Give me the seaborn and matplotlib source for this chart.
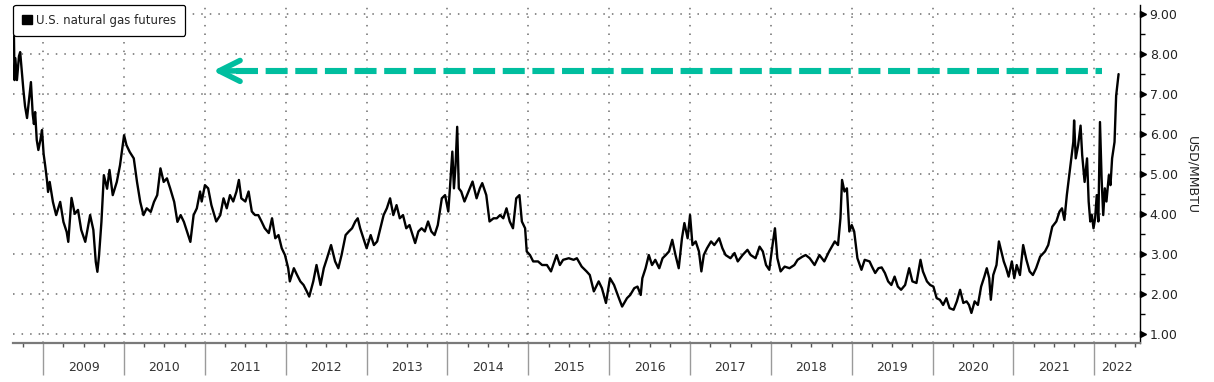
import matplotlib
matplotlib.use("Agg")
import matplotlib.pyplot as plt
import matplotlib.transforms as mtransforms
from matplotlib.patches import Patch
from matplotlib.ticker import FixedLocator, FormatStrFormatter, NullFormatter
import pandas as pd
import seaborn as sns

# U.S. natural gas front-month futures, USD/MMBTU (time as decimal year)
YEARS = [
    2008.638, 2008.645, 2008.655, 2008.675, 2008.700, 2008.715, 2008.730, 2008.755,
    2008.775, 2008.800, 2008.830, 2008.848, 2008.870, 2008.885, 2008.900, 2008.920,
    2008.940, 2008.965, 2008.985, 2009.005, 2009.025, 2009.046,
    2009.06, 2009.08, 2009.12, 2009.16, 2009.21, 2009.25, 2009.29, 2009.31, 2009.35,
    2009.39, 2009.43, 2009.47, 2009.52, 2009.58, 2009.62, 2009.65, 2009.67, 2009.69,
    2009.72, 2009.75, 2009.79, 2009.82, 2009.86, 2009.91, 2009.95, 2010.00, 2010.03,
    2010.07, 2010.12, 2010.16, 2010.20, 2010.24, 2010.28, 2010.33, 2010.37, 2010.41,
    2010.45, 2010.49, 2010.53, 2010.57, 2010.62, 2010.66, 2010.70, 2010.74, 2010.78,
    2010.82, 2010.86, 2010.90,
    2010.94, 2010.96, 2011.00, 2011.04, 2011.08, 2011.14, 2011.19, 2011.23, 2011.27,
    2011.31, 2011.35, 2011.39, 2011.42, 2011.45, 2011.50, 2011.54, 2011.58, 2011.62,
    2011.66, 2011.70, 2011.74, 2011.79, 2011.83, 2011.87, 2011.91, 2011.95, 2011.99,
    2012.03, 2012.05, 2012.10, 2012.14, 2012.18, 2012.22, 2012.26, 2012.29, 2012.34,
    2012.38, 2012.43, 2012.47, 2012.51, 2012.56, 2012.61, 2012.65, 2012.69, 2012.74,
    2012.78, 2012.82, 2012.86, 2012.89, 2012.92, 2012.96, 2013.00, 2013.05, 2013.09,
    2013.13, 2013.17, 2013.21, 2013.25,
    2013.29, 2013.33, 2013.37, 2013.41, 2013.45, 2013.49, 2013.53, 2013.60, 2013.64,
    2013.68, 2013.72, 2013.76, 2013.80, 2013.84, 2013.88, 2013.93, 2013.97, 2014.01,
    2014.03, 2014.06, 2014.08, 2014.10, 2014.12, 2014.14, 2014.17, 2014.21, 2014.26,
    2014.31, 2014.36, 2014.40, 2014.43, 2014.48, 2014.52, 2014.57, 2014.61, 2014.65,
    2014.69, 2014.73, 2014.77, 2014.81, 2014.85, 2014.89, 2014.92, 2014.96, 2014.98,
    2015.02, 2015.06, 2015.12, 2015.17, 2015.23, 2015.28, 2015.35, 2015.39, 2015.43,
    2015.50, 2015.56, 2015.60, 2015.66, 2015.72, 2015.76, 2015.81, 2015.87, 2015.91,
    2015.96, 2016.01, 2016.06, 2016.12, 2016.16, 2016.22,
    2016.26, 2016.31, 2016.35, 2016.39, 2016.41, 2016.45, 2016.49, 2016.53, 2016.57,
    2016.62, 2016.66, 2016.70, 2016.74, 2016.78, 2016.82, 2016.86, 2016.90, 2016.93,
    2016.97, 2017.00, 2017.03, 2017.07, 2017.11, 2017.14, 2017.17, 2017.21, 2017.26,
    2017.30, 2017.36, 2017.40, 2017.44, 2017.50, 2017.55, 2017.59, 2017.65, 2017.71,
    2017.75, 2017.81, 2017.86, 2017.90, 2017.94, 2017.98, 2018.02, 2018.05, 2018.08,
    2018.12, 2018.17, 2018.23, 2018.29, 2018.33, 2018.39, 2018.43, 2018.48, 2018.54,
    2018.60, 2018.66, 2018.72, 2018.79, 2018.83, 2018.86, 2018.88, 2018.91, 2018.94,
    2018.97, 2019.00, 2019.03, 2019.05, 2019.07, 2019.12, 2019.16, 2019.22,
    2019.25, 2019.29, 2019.33, 2019.37, 2019.41, 2019.45, 2019.49, 2019.53, 2019.57,
    2019.61, 2019.66, 2019.71, 2019.75, 2019.80, 2019.85, 2019.88, 2019.93, 2019.97,
    2020.01, 2020.05, 2020.09, 2020.13, 2020.17, 2020.21, 2020.26, 2020.30, 2020.34,
    2020.38, 2020.42, 2020.45, 2020.48, 2020.52, 2020.56, 2020.60, 2020.64, 2020.67,
    2020.70, 2020.72, 2020.75, 2020.79, 2020.82, 2020.85, 2020.88, 2020.91, 2020.94,
    2020.98, 2021.01, 2021.04, 2021.08, 2021.12, 2021.16, 2021.20, 2021.24, 2021.28,
    2021.33, 2021.39, 2021.43,
    2021.48, 2021.53, 2021.57, 2021.60, 2021.63, 2021.66, 2021.69, 2021.72, 2021.74,
    2021.75, 2021.77, 2021.80, 2021.83, 2021.85, 2021.88, 2021.91, 2021.93, 2021.95,
    2021.97, 2021.99, 2022.01, 2022.03, 2022.05, 2022.07, 2022.09, 2022.11, 2022.13,
    2022.15, 2022.18, 2022.20, 2022.22, 2022.25, 2022.27, 2022.30,
]
PRICE = [
    8.45, 7.35, 7.90, 7.35, 7.95, 8.05, 7.70, 7.10,
    6.70, 6.40, 6.95, 7.30, 6.50, 6.25, 6.55, 5.85,
    5.60, 5.85, 6.10, 5.50, 5.20, 4.85,
    4.55, 4.80, 4.30, 3.97, 4.30, 3.80, 3.55, 3.30, 4.40,
    4.00, 4.10, 3.60, 3.30, 3.97, 3.60, 2.80, 2.55, 2.95,
    3.80, 4.97, 4.63, 5.10, 4.47, 4.80, 5.22, 5.97, 5.72,
    5.55, 5.39, 4.80, 4.30, 3.97, 4.14, 4.05, 4.30, 4.47,
    5.14, 4.80, 4.89, 4.64, 4.30, 3.80, 3.97, 3.80, 3.55,
    3.30, 3.97, 4.14,
    4.56, 4.31, 4.72, 4.64, 4.22, 3.81, 3.97, 4.39, 4.14,
    4.47, 4.31, 4.56, 4.85, 4.39, 4.31, 4.56, 4.06, 3.97,
    3.97, 3.81, 3.64, 3.52, 3.89, 3.39, 3.47, 3.14, 2.97,
    2.64, 2.31, 2.64, 2.47, 2.31, 2.22, 2.06, 1.93, 2.31,
    2.72, 2.22, 2.64, 2.89, 3.22, 2.81, 2.64, 2.97, 3.47,
    3.56, 3.64, 3.81, 3.89, 3.64, 3.39, 3.14, 3.47, 3.22,
    3.31, 3.64, 3.97, 4.14,
    4.39, 3.97, 4.22, 3.89, 3.97, 3.64, 3.72, 3.27, 3.56,
    3.64, 3.56, 3.81, 3.56, 3.47, 3.72, 4.39, 4.47, 4.06,
    4.64, 5.56, 4.64, 5.22, 6.18, 4.64, 4.56, 4.31, 4.56,
    4.81, 4.39, 4.64, 4.77, 4.47, 3.81, 3.89, 3.89, 3.97,
    3.89, 4.14, 3.81, 3.64, 4.39, 4.47, 3.81, 3.64, 3.06,
    2.97, 2.81, 2.81, 2.72, 2.72, 2.56, 2.97, 2.72, 2.85,
    2.89, 2.85, 2.89, 2.68, 2.56, 2.47, 2.06, 2.31, 2.14,
    1.77, 2.39, 2.22, 1.89, 1.68, 1.89,
    1.97, 2.14, 2.18, 1.97, 2.39, 2.64, 2.97, 2.72, 2.85,
    2.64, 2.89, 2.97, 3.06, 3.35, 2.97, 2.64, 3.39, 3.77,
    3.39, 3.97, 3.22, 3.31, 3.06, 2.56, 2.97, 3.14, 3.31,
    3.22, 3.39, 3.14, 2.97, 2.89, 3.02, 2.81, 2.97, 3.10,
    2.97, 2.89, 3.18, 3.06, 2.72, 2.60, 3.22, 3.64, 2.89,
    2.56, 2.68, 2.64, 2.72, 2.85, 2.93, 2.97, 2.89, 2.72,
    2.97, 2.81, 3.06, 3.31, 3.22, 3.89, 4.85, 4.56, 4.64,
    3.56, 3.72, 3.56, 3.22, 2.89, 2.60, 2.85, 2.81,
    2.68, 2.52, 2.64, 2.66, 2.52, 2.31, 2.22, 2.43, 2.18,
    2.10, 2.22, 2.64, 2.31, 2.27, 2.85, 2.56, 2.31, 2.22,
    2.18, 1.89, 1.85, 1.72, 1.89, 1.64, 1.60, 1.81, 2.10,
    1.77, 1.81, 1.72, 1.52, 1.81, 1.72, 2.18, 2.43, 2.64,
    2.39, 1.85, 2.47, 2.72, 3.31, 3.06, 2.81, 2.64, 2.43,
    2.81, 2.39, 2.72, 2.47, 3.22, 2.85, 2.56, 2.47, 2.64,
    2.93, 3.06, 3.22,
    3.68, 3.81, 4.06, 4.14, 3.85, 4.47, 4.97, 5.47, 5.80,
    6.34, 5.39, 5.72, 6.21, 5.47, 4.80, 5.39, 4.31, 3.81,
    3.97, 3.64, 3.89, 4.47, 3.81, 6.30, 4.89, 3.97, 4.64,
    4.31, 4.97, 4.72, 5.39, 5.80, 6.96, 7.50,
]

YEAR_LABELS = list(range(2009, 2023))
Y_MAJOR = [1, 2, 3, 4, 5, 6, 7, 8, 9]
Y_MINOR = [1.5, 2.5, 3.5, 4.5, 5.5, 6.5, 7.5, 8.5]

# dashed "back to 2008 levels" arrow
ARROW_LEVEL = 7.58
ARROW_FROM = 2022.09
ARROW_TO = 2011.10

X_MIN, X_MAX = 2008.63, 2022.565
Y_MIN, Y_MAX = 0.76, 9.23

TEAL = "#00BE9F"
GRID_COLOR = "#6e6e6e"

sns.set_style("white")
plt.rcParams["font.family"] = ["DejaVu Sans"]

df = pd.DataFrame({"year": YEARS, "price": PRICE})

W, H = 1214, 382
fig = plt.figure(figsize=(W / 100, H / 100), dpi=100)
ax = fig.add_axes([13.3 / W, 1 - 343.3 / H, (1140 - 13.3) / W, (343.3 - 5) / H])

sns.lineplot(data=df, x="year", y="price", color="black", linewidth=1.7, ax=ax, legend=False)

ax.set_xlim(X_MIN, X_MAX)
ax.set_ylim(Y_MIN, Y_MAX)
ax.set_xlabel("")
ax.set_ylabel("")

# spines
for side in ("top", "left"):
    ax.spines[side].set_visible(False)
ax.spines["right"].set_color("black")
ax.spines["right"].set_linewidth(1.0)
ax.spines["bottom"].set_color("#7a7a7a")
ax.spines["bottom"].set_linewidth(1.6)

# y axis on the right
ax.yaxis.tick_right()
ax.yaxis.set_major_locator(FixedLocator(Y_MAJOR))
ax.yaxis.set_minor_locator(FixedLocator(Y_MINOR))
ax.yaxis.set_major_formatter(FormatStrFormatter("%.2f"))
ax.tick_params(axis="y", which="both", left=False, right=True)
ax.tick_params(axis="y", which="major", length=0, pad=7, labelsize=9, labelcolor="#222")
ax.tick_params(axis="y", which="minor", length=3.5, width=1, color="black", direction="out")
tri = mtransforms.blended_transform_factory(ax.transAxes, ax.transData) + \
    mtransforms.ScaledTranslation(3 / 100, 0, fig.dpi_scale_trans)
ax.plot([1.0] * len(Y_MAJOR), Y_MAJOR, ">", color="black", markersize=5,
        transform=tri, clip_on=False)

# x axis: year separators + quarterly ticks, labels centred in each year
ax.xaxis.set_major_locator(FixedLocator(YEAR_LABELS))
quarters = [y + q for y in range(2008, 2023) for q in (0.25, 0.5, 0.75)]
ax.xaxis.set_minor_locator(FixedLocator([q for q in quarters if X_MIN < q < X_MAX]))
ax.xaxis.set_major_formatter(NullFormatter())
ax.tick_params(axis="x", which="both", bottom=True, top=False)
ax.tick_params(axis="x", which="major", length=23, width=1, color="#9a9a9a", direction="out")
ax.tick_params(axis="x", which="minor", length=3, width=1, color="#555555", direction="out")
lab_tr = mtransforms.blended_transform_factory(ax.transData, ax.transAxes)
for yr in YEAR_LABELS:
    lo, hi = max(yr, X_MIN), min(yr + 1, X_MAX)
    ax.text((lo + hi) / 2, -0.073, str(yr), transform=lab_tr, ha="center", va="center",
            fontsize=9, color="#333")

# dotted grid
ax.grid(True, which="major", axis="both", color=GRID_COLOR, linewidth=1.1,
        linestyle=(0, (1, 4.6)))

# arrow: dashed shaft + open chevron head
ax.plot([ARROW_TO + 0.285, ARROW_FROM], [ARROW_LEVEL, ARROW_LEVEL], color=TEAL,
        linewidth=4.4, linestyle=(0, (3.6, 1.25)), dash_capstyle="butt", zorder=4)
ax.annotate("", xy=(ARROW_TO, ARROW_LEVEL), xytext=(ARROW_TO + 0.3, ARROW_LEVEL),
            arrowprops=dict(arrowstyle="->,head_length=1.5,head_width=0.75", lw=4.0,
                            color=TEAL, shrinkA=0, shrinkB=0, mutation_scale=10),
            zorder=4)

# legend
leg = ax.legend(handles=[Patch(facecolor="black", edgecolor="black",
                               label="U.S. natural gas futures")],
                loc="upper left", bbox_to_anchor=(0, 1), borderaxespad=0,
                frameon=True, fancybox=True, framealpha=1, edgecolor="black",
                handlelength=0.85, handleheight=0.85, handletextpad=0.35,
                borderpad=0.75, fontsize=8.5)
leg.get_frame().set_linewidth(0.9)

fig.text(1192 / W, 1 - 175 / H, "USD/MMBTU", rotation=270, ha="center", va="center",
         fontsize=9, color="#222")

fig.savefig("out.png", dpi=100)
